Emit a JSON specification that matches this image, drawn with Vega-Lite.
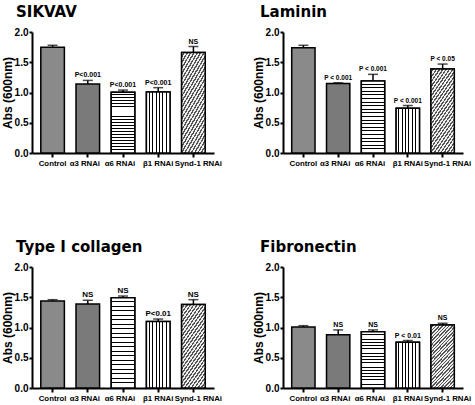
{
  "$schema": "https://vega.github.io/schema/vega-lite/v6.json",
  "padding": {"left": 1, "top": 5, "right": 2, "bottom": 2},
  "columns": 2,
  "spacing": {"row": 73, "column": 30},
  "params": [
    {"name": "hstripe", "value": {"gradient": "linear", "x1": 0, "y1": 0, "x2": 0, "y2": 1, "stops": [
        {"offset": 0, "color": "#fff"}, {"offset": 0.035, "color": "#fff"}, {"offset": 0.035, "color": "#000"}, {"offset": 0.05, "color": "#000"},
        {"offset": 0.05, "color": "#fff"}, {"offset": 0.085, "color": "#fff"}, {"offset": 0.085, "color": "#000"}, {"offset": 0.1, "color": "#000"},
        {"offset": 0.1, "color": "#fff"}, {"offset": 0.135, "color": "#fff"}, {"offset": 0.135, "color": "#000"}, {"offset": 0.15, "color": "#000"},
        {"offset": 0.15, "color": "#fff"}, {"offset": 0.185, "color": "#fff"}, {"offset": 0.185, "color": "#000"}, {"offset": 0.2, "color": "#000"},
        {"offset": 0.2, "color": "#fff"}, {"offset": 0.235, "color": "#fff"}, {"offset": 0.235, "color": "#000"}, {"offset": 0.25, "color": "#000"},
        {"offset": 0.25, "color": "#fff"}, {"offset": 0.285, "color": "#fff"}, {"offset": 0.285, "color": "#000"}, {"offset": 0.3, "color": "#000"},
        {"offset": 0.3, "color": "#fff"}, {"offset": 0.335, "color": "#fff"}, {"offset": 0.335, "color": "#000"}, {"offset": 0.35, "color": "#000"},
        {"offset": 0.35, "color": "#fff"}, {"offset": 0.385, "color": "#fff"}, {"offset": 0.385, "color": "#000"}, {"offset": 0.4, "color": "#000"},
        {"offset": 0.4, "color": "#fff"}, {"offset": 0.435, "color": "#fff"}, {"offset": 0.435, "color": "#000"}, {"offset": 0.45, "color": "#000"},
        {"offset": 0.45, "color": "#fff"}, {"offset": 0.485, "color": "#fff"}, {"offset": 0.485, "color": "#000"}, {"offset": 0.5, "color": "#000"},
        {"offset": 0.5, "color": "#fff"}, {"offset": 0.535, "color": "#fff"}, {"offset": 0.535, "color": "#000"}, {"offset": 0.55, "color": "#000"},
        {"offset": 0.55, "color": "#fff"}, {"offset": 0.585, "color": "#fff"}, {"offset": 0.585, "color": "#000"}, {"offset": 0.6, "color": "#000"},
        {"offset": 0.6, "color": "#fff"}, {"offset": 0.635, "color": "#fff"}, {"offset": 0.635, "color": "#000"}, {"offset": 0.65, "color": "#000"},
        {"offset": 0.65, "color": "#fff"}, {"offset": 0.685, "color": "#fff"}, {"offset": 0.685, "color": "#000"}, {"offset": 0.7, "color": "#000"},
        {"offset": 0.7, "color": "#fff"}, {"offset": 0.735, "color": "#fff"}, {"offset": 0.735, "color": "#000"}, {"offset": 0.75, "color": "#000"},
        {"offset": 0.75, "color": "#fff"}, {"offset": 0.785, "color": "#fff"}, {"offset": 0.785, "color": "#000"}, {"offset": 0.8, "color": "#000"},
        {"offset": 0.8, "color": "#fff"}, {"offset": 0.835, "color": "#fff"}, {"offset": 0.835, "color": "#000"}, {"offset": 0.85, "color": "#000"},
        {"offset": 0.85, "color": "#fff"}, {"offset": 0.885, "color": "#fff"}, {"offset": 0.885, "color": "#000"}, {"offset": 0.9, "color": "#000"},
        {"offset": 0.9, "color": "#fff"}, {"offset": 0.935, "color": "#fff"}, {"offset": 0.935, "color": "#000"}, {"offset": 0.95, "color": "#000"},
        {"offset": 0.95, "color": "#fff"}, {"offset": 1, "color": "#fff"}
      ]}},
    {"name": "vstripe", "value": {"gradient": "linear", "x1": 0, "y1": 0, "x2": 1, "y2": 0, "stops": [
        {"offset": 0, "color": "#fff"}, {"offset": 0.1, "color": "#fff"}, {"offset": 0.1, "color": "#000"}, {"offset": 0.1429, "color": "#000"},
        {"offset": 0.1429, "color": "#fff"}, {"offset": 0.2429, "color": "#fff"}, {"offset": 0.2429, "color": "#000"}, {"offset": 0.2857, "color": "#000"},
        {"offset": 0.2857, "color": "#fff"}, {"offset": 0.3857, "color": "#fff"}, {"offset": 0.3857, "color": "#000"}, {"offset": 0.4286, "color": "#000"},
        {"offset": 0.4286, "color": "#fff"}, {"offset": 0.5286, "color": "#fff"}, {"offset": 0.5286, "color": "#000"}, {"offset": 0.5714, "color": "#000"},
        {"offset": 0.5714, "color": "#fff"}, {"offset": 0.6714, "color": "#fff"}, {"offset": 0.6714, "color": "#000"}, {"offset": 0.7143, "color": "#000"},
        {"offset": 0.7143, "color": "#fff"}, {"offset": 0.8143, "color": "#fff"}, {"offset": 0.8143, "color": "#000"}, {"offset": 0.8571, "color": "#000"},
        {"offset": 0.8571, "color": "#fff"}, {"offset": 1, "color": "#fff"}
      ]}},
    {"name": "dstripe", "value": {"gradient": "linear", "x1": 0, "y1": 0, "x2": 0.483, "y2": 1.207, "stops": [
        {"offset": 0, "color": "#eee"}, {"offset": 0.022, "color": "#eee"}, {"offset": 0.022, "color": "#555"}, {"offset": 0.04, "color": "#555"},
        {"offset": 0.04, "color": "#eee"}, {"offset": 0.062, "color": "#eee"}, {"offset": 0.062, "color": "#555"}, {"offset": 0.08, "color": "#555"},
        {"offset": 0.08, "color": "#eee"}, {"offset": 0.102, "color": "#eee"}, {"offset": 0.102, "color": "#555"}, {"offset": 0.12, "color": "#555"},
        {"offset": 0.12, "color": "#eee"}, {"offset": 0.142, "color": "#eee"}, {"offset": 0.142, "color": "#555"}, {"offset": 0.16, "color": "#555"},
        {"offset": 0.16, "color": "#eee"}, {"offset": 0.182, "color": "#eee"}, {"offset": 0.182, "color": "#555"}, {"offset": 0.2, "color": "#555"},
        {"offset": 0.2, "color": "#eee"}, {"offset": 0.222, "color": "#eee"}, {"offset": 0.222, "color": "#555"}, {"offset": 0.24, "color": "#555"},
        {"offset": 0.24, "color": "#eee"}, {"offset": 0.262, "color": "#eee"}, {"offset": 0.262, "color": "#555"}, {"offset": 0.28, "color": "#555"},
        {"offset": 0.28, "color": "#eee"}, {"offset": 0.302, "color": "#eee"}, {"offset": 0.302, "color": "#555"}, {"offset": 0.32, "color": "#555"},
        {"offset": 0.32, "color": "#eee"}, {"offset": 0.342, "color": "#eee"}, {"offset": 0.342, "color": "#555"}, {"offset": 0.36, "color": "#555"},
        {"offset": 0.36, "color": "#eee"}, {"offset": 0.382, "color": "#eee"}, {"offset": 0.382, "color": "#555"}, {"offset": 0.4, "color": "#555"},
        {"offset": 0.4, "color": "#eee"}, {"offset": 0.422, "color": "#eee"}, {"offset": 0.422, "color": "#555"}, {"offset": 0.44, "color": "#555"},
        {"offset": 0.44, "color": "#eee"}, {"offset": 0.462, "color": "#eee"}, {"offset": 0.462, "color": "#555"}, {"offset": 0.48, "color": "#555"},
        {"offset": 0.48, "color": "#eee"}, {"offset": 0.502, "color": "#eee"}, {"offset": 0.502, "color": "#555"}, {"offset": 0.52, "color": "#555"},
        {"offset": 0.52, "color": "#eee"}, {"offset": 0.542, "color": "#eee"}, {"offset": 0.542, "color": "#555"}, {"offset": 0.56, "color": "#555"},
        {"offset": 0.56, "color": "#eee"}, {"offset": 0.582, "color": "#eee"}, {"offset": 0.582, "color": "#555"}, {"offset": 0.6, "color": "#555"},
        {"offset": 0.6, "color": "#eee"}, {"offset": 0.622, "color": "#eee"}, {"offset": 0.622, "color": "#555"}, {"offset": 0.64, "color": "#555"},
        {"offset": 0.64, "color": "#eee"}, {"offset": 0.662, "color": "#eee"}, {"offset": 0.662, "color": "#555"}, {"offset": 0.68, "color": "#555"},
        {"offset": 0.68, "color": "#eee"}, {"offset": 0.702, "color": "#eee"}, {"offset": 0.702, "color": "#555"}, {"offset": 0.72, "color": "#555"},
        {"offset": 0.72, "color": "#eee"}, {"offset": 0.742, "color": "#eee"}, {"offset": 0.742, "color": "#555"}, {"offset": 0.76, "color": "#555"},
        {"offset": 0.76, "color": "#eee"}, {"offset": 0.782, "color": "#eee"}, {"offset": 0.782, "color": "#555"}, {"offset": 0.8, "color": "#555"},
        {"offset": 0.8, "color": "#eee"}, {"offset": 0.822, "color": "#eee"}, {"offset": 0.822, "color": "#555"}, {"offset": 0.84, "color": "#555"},
        {"offset": 0.84, "color": "#eee"}, {"offset": 0.862, "color": "#eee"}, {"offset": 0.862, "color": "#555"}, {"offset": 0.88, "color": "#555"},
        {"offset": 0.88, "color": "#eee"}, {"offset": 0.902, "color": "#eee"}, {"offset": 0.902, "color": "#555"}, {"offset": 0.92, "color": "#555"},
        {"offset": 0.92, "color": "#eee"}, {"offset": 0.942, "color": "#eee"}, {"offset": 0.942, "color": "#555"}, {"offset": 0.96, "color": "#555"},
        {"offset": 0.96, "color": "#eee"}, {"offset": 0.982, "color": "#eee"}, {"offset": 0.982, "color": "#555"}, {"offset": 1, "color": "#555"}
      ]}}
  ],
  "data": {"values": [
    {"panel": "SIKVAV", "group": "Control", "value": 1.75, "upper": 1.78, "label": ""},
    {"panel": "SIKVAV", "group": "α3 RNAi", "value": 1.14, "upper": 1.2, "label": "P<0.001"},
    {"panel": "SIKVAV", "group": "α6 RNAi", "value": 1.005, "upper": 1.04, "label": "P<0.001"},
    {"panel": "SIKVAV", "group": "β1 RNAi", "value": 1.01, "upper": 1.08, "label": "P<0.001"},
    {"panel": "SIKVAV", "group": "Synd-1 RNAi", "value": 1.66, "upper": 1.76, "label": "NS"},
    {"panel": "Laminin", "group": "Control", "value": 1.74, "upper": 1.78, "label": ""},
    {"panel": "Laminin", "group": "α3 RNAi", "value": 1.15, "upper": 1.16, "label": "P < 0.001"},
    {"panel": "Laminin", "group": "α6 RNAi", "value": 1.19, "upper": 1.3, "label": "P < 0.001"},
    {"panel": "Laminin", "group": "β1 RNAi", "value": 0.74, "upper": 0.785, "label": "P < 0.001"},
    {"panel": "Laminin", "group": "Synd-1 RNAi", "value": 1.39, "upper": 1.47, "label": "P < 0.05"},
    {"panel": "Type I collagen", "group": "Control", "value": 1.44, "upper": 1.46, "label": ""},
    {"panel": "Type I collagen", "group": "α3 RNAi", "value": 1.39, "upper": 1.45, "label": "NS"},
    {"panel": "Type I collagen", "group": "α6 RNAi", "value": 1.49, "upper": 1.52, "label": "NS"},
    {"panel": "Type I collagen", "group": "β1 RNAi", "value": 1.1, "upper": 1.14, "label": "P<0.01"},
    {"panel": "Type I collagen", "group": "Synd-1 RNAi", "value": 1.38, "upper": 1.46, "label": "NS"},
    {"panel": "Fibronectin", "group": "Control", "value": 1.01, "upper": 1.03, "label": ""},
    {"panel": "Fibronectin", "group": "α3 RNAi", "value": 0.88, "upper": 0.96, "label": "NS"},
    {"panel": "Fibronectin", "group": "α6 RNAi", "value": 0.93, "upper": 0.96, "label": "NS"},
    {"panel": "Fibronectin", "group": "β1 RNAi", "value": 0.755, "upper": 0.785, "label": "P < 0.01"},
    {"panel": "Fibronectin", "group": "Synd-1 RNAi", "value": 1.04, "upper": 1.07, "label": "NS"}
  ]},
  "concat": [
    {
      "title": {"text": "SIKVAV", "dx": -16},
      "width": 182, "height": 121,
      "transform": [{"filter": "datum.panel === 'SIKVAV'"}],
      "encoding": {
        "x": {"field": "group", "type": "nominal", "scale": {"domain": ["Control", "α3 RNAi", "α6 RNAi", "β1 RNAi", "Synd-1 RNAi"], "paddingInner": 0.33, "paddingOuter": 0.25}, "axis": {"title": null, "labelOffset": {"condition": [{"test": "datum.value === 'Synd-1 RNAi'", "value": 5}, {"test": "datum.value === 'α3 RNAi' || datum.value === 'α6 RNAi'", "value": -3}], "value": 0}}},
        "y": {"field": "value", "type": "quantitative", "title": "Abs (600nm)", "scale": {"domain": [0, 2]}, "axis": {"values": [0, 0.5, 1, 1.5, 2], "format": ".1f"}}
      },
      "layer": [
        {"mark": {"type": "bar", "stroke": "#000", "strokeWidth": 1.5}, "encoding": {"fill": {"condition": [{"test": "datum.group === 'Control'", "value": "#8a8a8a"}, {"test": "datum.group === 'α3 RNAi'", "value": "#7a7a7a"}], "value": "#ffffff"}}},
        {"transform": [{"filter": "datum.group === 'α6 RNAi'"}], "mark": {"type": "bar", "fill": {"expr": "hstripe"}, "stroke": "#000", "strokeWidth": 1.5}},
        {"transform": [{"filter": "datum.group === 'β1 RNAi'"}], "mark": {"type": "bar", "fill": {"expr": "vstripe"}, "stroke": "#000", "strokeWidth": 1.5}},
        {"transform": [{"filter": "datum.group === 'Synd-1 RNAi'"}], "mark": {"type": "bar", "fill": {"expr": "dstripe"}, "stroke": "#000", "strokeWidth": 1.5}},
        {"mark": {"type": "rule", "strokeWidth": 1.5, "color": "#000"}, "encoding": {"y": {"field": "value", "type": "quantitative", "title": "Abs (600nm)"}, "y2": {"field": "upper"}}},
        {"mark": {"type": "tick", "size": 10, "thickness": 1.5, "color": "#000"}, "encoding": {"y": {"field": "upper", "type": "quantitative", "title": "Abs (600nm)"}}},
        {"mark": {"type": "text", "font": "Liberation Sans", "fontWeight": "bold", "fontSize": 7, "dy": -3, "baseline": "alphabetic", "color": "#000"}, "encoding": {"y": {"field": "upper", "type": "quantitative", "title": "Abs (600nm)"}, "text": {"field": "label"}}}
      ]
    },
    {
      "title": {"text": "Laminin", "dx": -23},
      "width": 180, "height": 121,
      "transform": [{"filter": "datum.panel === 'Laminin'"}],
      "encoding": {
        "x": {"field": "group", "type": "nominal", "scale": {"domain": ["Control", "α3 RNAi", "α6 RNAi", "β1 RNAi", "Synd-1 RNAi"], "paddingInner": 0.33, "paddingOuter": 0.25}, "axis": {"title": null, "labelOffset": {"condition": [{"test": "datum.value === 'Synd-1 RNAi'", "value": 5}, {"test": "datum.value === 'α3 RNAi' || datum.value === 'α6 RNAi'", "value": -3}], "value": 0}}},
        "y": {"field": "value", "type": "quantitative", "title": "Abs (600nm)", "scale": {"domain": [0, 2]}, "axis": {"values": [0, 0.5, 1, 1.5, 2], "format": ".1f"}}
      },
      "layer": [
        {"mark": {"type": "bar", "stroke": "#000", "strokeWidth": 1.5}, "encoding": {"fill": {"condition": [{"test": "datum.group === 'Control'", "value": "#8a8a8a"}, {"test": "datum.group === 'α3 RNAi'", "value": "#7a7a7a"}], "value": "#ffffff"}}},
        {"transform": [{"filter": "datum.group === 'α6 RNAi'"}], "mark": {"type": "bar", "fill": {"expr": "hstripe"}, "stroke": "#000", "strokeWidth": 1.5}},
        {"transform": [{"filter": "datum.group === 'β1 RNAi'"}], "mark": {"type": "bar", "fill": {"expr": "vstripe"}, "stroke": "#000", "strokeWidth": 1.5}},
        {"transform": [{"filter": "datum.group === 'Synd-1 RNAi'"}], "mark": {"type": "bar", "fill": {"expr": "dstripe"}, "stroke": "#000", "strokeWidth": 1.5}},
        {"mark": {"type": "rule", "strokeWidth": 1.5, "color": "#000"}, "encoding": {"y": {"field": "value", "type": "quantitative", "title": "Abs (600nm)"}, "y2": {"field": "upper"}}},
        {"mark": {"type": "tick", "size": 10, "thickness": 1.5, "color": "#000"}, "encoding": {"y": {"field": "upper", "type": "quantitative", "title": "Abs (600nm)"}}},
        {"mark": {"type": "text", "font": "Liberation Sans", "fontWeight": "bold", "fontSize": 6.5, "dy": -3, "baseline": "alphabetic", "color": "#000"}, "encoding": {"y": {"field": "upper", "type": "quantitative", "title": "Abs (600nm)"}, "text": {"field": "label"}}}
      ]
    },
    {
      "title": {"text": "Type I collagen", "dx": -16},
      "width": 182, "height": 121,
      "transform": [{"filter": "datum.panel === 'Type I collagen'"}],
      "encoding": {
        "x": {"field": "group", "type": "nominal", "scale": {"domain": ["Control", "α3 RNAi", "α6 RNAi", "β1 RNAi", "Synd-1 RNAi"], "paddingInner": 0.33, "paddingOuter": 0.25}, "axis": {"title": null, "labelOffset": {"condition": [{"test": "datum.value === 'Synd-1 RNAi'", "value": 5}, {"test": "datum.value === 'α3 RNAi' || datum.value === 'α6 RNAi'", "value": -3}], "value": 0}}},
        "y": {"field": "value", "type": "quantitative", "title": "Abs (600nm)", "scale": {"domain": [0, 2]}, "axis": {"values": [0, 0.5, 1, 1.5, 2], "format": ".1f"}}
      },
      "layer": [
        {"mark": {"type": "bar", "stroke": "#000", "strokeWidth": 1.5}, "encoding": {"fill": {"condition": [{"test": "datum.group === 'Control'", "value": "#8a8a8a"}, {"test": "datum.group === 'α3 RNAi'", "value": "#7a7a7a"}], "value": "#ffffff"}}},
        {"transform": [{"filter": "datum.group === 'α6 RNAi'"}], "mark": {"type": "bar", "fill": {"expr": "hstripe"}, "stroke": "#000", "strokeWidth": 1.5}},
        {"transform": [{"filter": "datum.group === 'β1 RNAi'"}], "mark": {"type": "bar", "fill": {"expr": "vstripe"}, "stroke": "#000", "strokeWidth": 1.5}},
        {"transform": [{"filter": "datum.group === 'Synd-1 RNAi'"}], "mark": {"type": "bar", "fill": {"expr": "dstripe"}, "stroke": "#000", "strokeWidth": 1.5}},
        {"mark": {"type": "rule", "strokeWidth": 1.5, "color": "#000"}, "encoding": {"y": {"field": "value", "type": "quantitative", "title": "Abs (600nm)"}, "y2": {"field": "upper"}}},
        {"mark": {"type": "tick", "size": 10, "thickness": 1.5, "color": "#000"}, "encoding": {"y": {"field": "upper", "type": "quantitative", "title": "Abs (600nm)"}}},
        {"mark": {"type": "text", "font": "Liberation Sans", "fontWeight": "bold", "fontSize": 8, "dy": -3, "baseline": "alphabetic", "color": "#000"}, "encoding": {"y": {"field": "upper", "type": "quantitative", "title": "Abs (600nm)"}, "text": {"field": "label"}}}
      ]
    },
    {
      "title": {"text": "Fibronectin", "dx": -23},
      "width": 180, "height": 121,
      "transform": [{"filter": "datum.panel === 'Fibronectin'"}],
      "encoding": {
        "x": {"field": "group", "type": "nominal", "scale": {"domain": ["Control", "α3 RNAi", "α6 RNAi", "β1 RNAi", "Synd-1 RNAi"], "paddingInner": 0.33, "paddingOuter": 0.25}, "axis": {"title": null, "labelOffset": {"condition": [{"test": "datum.value === 'Synd-1 RNAi'", "value": 5}, {"test": "datum.value === 'α3 RNAi' || datum.value === 'α6 RNAi'", "value": -3}], "value": 0}}},
        "y": {"field": "value", "type": "quantitative", "title": "Abs (600nm)", "scale": {"domain": [0, 2]}, "axis": {"values": [0, 0.5, 1, 1.5, 2], "format": ".1f"}}
      },
      "layer": [
        {"mark": {"type": "bar", "stroke": "#000", "strokeWidth": 1.5}, "encoding": {"fill": {"condition": [{"test": "datum.group === 'Control'", "value": "#8a8a8a"}, {"test": "datum.group === 'α3 RNAi'", "value": "#7a7a7a"}], "value": "#ffffff"}}},
        {"transform": [{"filter": "datum.group === 'α6 RNAi'"}], "mark": {"type": "bar", "fill": {"expr": "hstripe"}, "stroke": "#000", "strokeWidth": 1.5}},
        {"transform": [{"filter": "datum.group === 'β1 RNAi'"}], "mark": {"type": "bar", "fill": {"expr": "vstripe"}, "stroke": "#000", "strokeWidth": 1.5}},
        {"transform": [{"filter": "datum.group === 'Synd-1 RNAi'"}], "mark": {"type": "bar", "fill": {"expr": "dstripe"}, "stroke": "#000", "strokeWidth": 1.5}},
        {"mark": {"type": "rule", "strokeWidth": 1.5, "color": "#000"}, "encoding": {"y": {"field": "value", "type": "quantitative", "title": "Abs (600nm)"}, "y2": {"field": "upper"}}},
        {"mark": {"type": "tick", "size": 10, "thickness": 1.5, "color": "#000"}, "encoding": {"y": {"field": "upper", "type": "quantitative", "title": "Abs (600nm)"}}},
        {"mark": {"type": "text", "font": "Liberation Sans", "fontWeight": "bold", "fontSize": 7, "dy": -3, "baseline": "alphabetic", "color": "#000"}, "encoding": {"y": {"field": "upper", "type": "quantitative", "title": "Abs (600nm)"}, "text": {"field": "label"}}}
      ]
    }
  ],
  "config": {
    "view": {"stroke": null},
    "title": {"font": "DejaVu Sans", "fontSize": 15, "fontWeight": "bold", "anchor": "start", "frame": "group", "color": "#000", "offset": 7},
    "axis": {"domainColor": "#000", "domainWidth": 2, "tickColor": "#000", "tickWidth": 2, "labelColor": "#000", "labelFont": "Liberation Sans", "labelFontWeight": "bold", "titleFont": "Liberation Sans", "titleFontWeight": "bold", "titleColor": "#000", "grid": false},
    "axisX": {"labelFontSize": 7.8, "labelAngle": 0, "labelPadding": 2, "tickSize": 4},
    "axisY": {"labelFontSize": 10, "titleFontSize": 12, "labelPadding": 1, "titlePadding": 0, "tickSize": 3}
  }
}
